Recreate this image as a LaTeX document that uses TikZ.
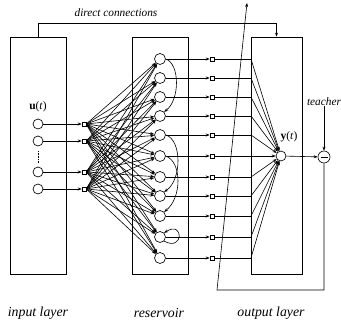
\documentclass[tikz,border=0pt]{standalone}
\usepackage{fontspec}
\setmainfont{Liberation Serif}
\usetikzlibrary{arrows.meta}
\begin{document}
\begin{tikzpicture}[x=1pt,y=-1pt,
  box/.style={draw, line width=0.75pt, rectangle, inner sep=0pt},
  neuron/.style={circle, draw, line width=0.65pt, minimum size=11pt, inner sep=0pt, fill=white},
  inneuron/.style={circle, draw, line width=0.65pt, minimum size=10pt, inner sep=0pt, fill=white},
  sq/.style={rectangle, draw, line width=0.55pt, minimum size=4pt, inner sep=0pt, fill=white},
  arr/.style={-{Stealth[length=4pt,width=3pt]}, line width=0.6pt},
  lbl/.style={font=\fontsize{13.8}{15}\selectfont\itshape, inner sep=0pt},
  slbl/.style={font=\fontsize{11.3}{13}\selectfont\itshape, inner sep=0pt},
  mlbl/.style={font=\fontsize{11.5}{13}\selectfont, inner sep=0pt}]
\useasboundingbox (0,0) rectangle (341,326);
% boxes
\node[box, minimum width=56pt, minimum height=237pt] (inbox) at (38,155.5) {};
\node[box, minimum width=56pt, minimum height=237pt] (resbox) at (160,155.5) {};
\node[box, minimum width=51pt, minimum height=237pt] (outbox) at (276.5,155.5) {};
% direct connections
\node[slbl] (dctext) at (116,13) {direct connections};
\coordinate (dc1) at (38,23);
\draw[arr] (inbox.north) -- (dc1) -| (outbox.north);
% output neuron
\node[inneuron] (yt) at (281,156) {};
\node[mlbl] (ytl) at (289,137) {\textbf{y}(\textit{t})};
% reservoir
\foreach \y [count=\i] in {59,78,97,116,135,156,177,196,216,237,258} {
  \node[neuron] (r\i) at (160,\y) {};
  \node[sq] (s\i) at (212,\y) {};
  \coordinate (e\i) at (251,\y);
}
\foreach \i in {1,...,11} {
  \draw[arr] (r\i) -- (s\i);
  \draw[line width=0.6pt] (s\i) -- (e\i);
  \draw[arr] (e\i) -- (yt);
}
% input
\node[mlbl] (ul) at (38,107) {\textbf{u}(\textit{t})};
\foreach \y [count=\i] in {124,141,172,189} {
  \node[inneuron] (u\i) at (38,\y) {};
  \node[sq] (q\i) at (84,\y) {};
  \draw[arr] (u\i) -- (q\i);
}
\draw[line width=0.7pt, dash pattern=on 0.7pt off 0.9pt] (38,151) -- (38,163);
\foreach \i in {1,...,4} {
  \foreach \j in {1,...,11} {
    \draw[arr] (q\i.east) -- (r\j);
  }
}
% recurrent connections
\draw[arr] (r1.east) .. controls (180,64) and (180,100) .. (r4.north east);
\draw[arr] (r5.east) .. controls (182,140) and (182,180) .. (r8.north east);
\draw[arr] (r6.east) .. controls (182,162) and (182,198) .. (r9.north east);
\draw[arr] (r10.south east) .. controls (184,252) and (184,220) .. (r10.north east);
% teacher
\node[circle, draw, line width=0.65pt, minimum size=12pt, inner sep=0pt] (df) at (324,157) {};
\draw[line width=0.8pt] ([xshift=-3.5pt]df.center) -- ([xshift=3.5pt]df.center);
\node[slbl] (teach) at (324,102) {teacher};
\draw[arr] (teach.south) -- (df);
\draw[arr] (yt) -- (df);
% feedback
\coordinate (fb1) at (324,290);
\coordinate (fb2) at (217,290);
\coordinate (fbtop) at (247,3);
\draw[arr] (df) -- (fb1) -- (fb2) -- (fbtop);
% layer labels
\node[lbl] (l1) at (38,313) {input layer};
\node[lbl] (l2) at (159,313) {reservoir};
\node[lbl] (l3) at (271,313) {output layer};
\end{tikzpicture}
\end{document}
